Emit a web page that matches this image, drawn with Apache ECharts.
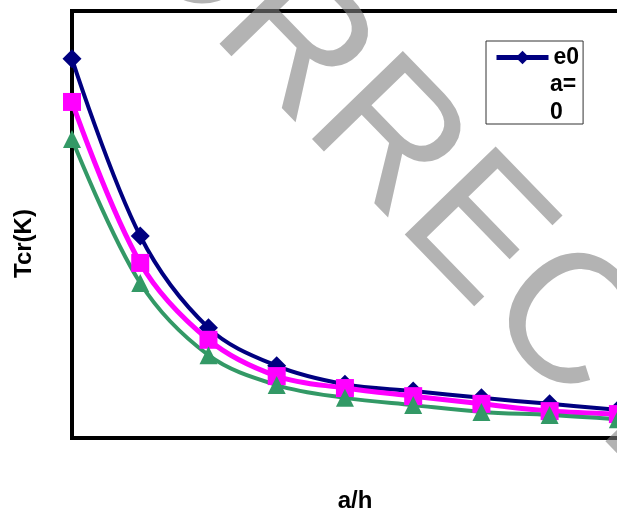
<!DOCTYPE html>
<html>
<head>
<meta charset="utf-8">
<script src="https://cdn.jsdelivr.net/npm/echarts@6/dist/echarts.min.js"></script>
<style>
  html, body { margin: 0; padding: 0; background: #fff; }
  #chart { width: 617px; height: 511px; }
</style>
</head>
<body>
<div id="chart"></div>
<script>
// a/h positions (evenly spaced in the plot)
const aOverH = [1, 2, 3, 4, 5, 6, 7, 8, 9]

// Tcr(K) (no tick labels, relative scale 0-100)
const tcrNavy = [88.8, 47.3, 25.8, 16.9, 12.6, 11.0, 9.4, 8.0, 6.6]
const tcrMagenta = [78.7, 41.0, 23.0, 14.5, 11.7, 9.8, 8.0, 6.3, 5.6]
const tcrGreen = [70.0, 36.3, 19.4, 12.4, 9.4, 7.7, 6.1, 5.4, 4.4]

const legendLines = ['a=', '0']

const font = 'Liberation Sans, Arial, sans-serif'

const toPairs = (ys) => ys.map((y, i) => [aOverH[i], y])

const chart = echarts.init(document.getElementById('chart'), null, { renderer: 'canvas' })

const option = {
  backgroundColor: '#fff',
  animation: false,
  grid: {
    left: 72,
    top: 11,
    bottom: 73,
    right: -35,
    outerBoundsMode: 'none',
    containLabel: false,
    show: true,
    borderColor: '#000',
    borderWidth: 4,
    backgroundColor: 'transparent'
  },
  legend: {
    left: 486,
    top: 41,
    padding: [5, 4, 55, 8],
    borderColor: '#333',
    borderWidth: 1,
    itemWidth: 52,
    itemHeight: 17,
    itemGap: 3,
    data: ['e0'],
    lineStyle: { width: 5 },
    textStyle: {
      fontFamily: font,
      fontWeight: 'bold',
      fontSize: 23,
      color: '#000'
    }
  },
  xAxis: {
    type: 'value',
    min: 1,
    max: 9.5,
    name: 'a/h',
    nameLocation: 'middle',
    nameGap: 51,
    nameTextStyle: {
      fontFamily: font,
      fontWeight: 'bold',
      fontSize: 24,
      color: '#000',
      padding: [0, 14, 0, 0]
    },
    axisLine: { show: false },
    axisTick: { show: false },
    axisLabel: { show: false },
    splitLine: { show: false }
  },
  yAxis: {
    type: 'value',
    min: 0,
    max: 100,
    name: 'Tcr(K)',
    nameLocation: 'middle',
    nameGap: 36,
    nameTextStyle: {
      fontFamily: font,
      fontWeight: 'bold',
      fontSize: 24,
      color: '#000',
      padding: [0, 38, 0, 0]
    },
    axisLine: { show: false },
    axisTick: { show: false },
    axisLabel: { show: false },
    splitLine: { show: false }
  },
  series: [
    {
      name: 'e0',
      type: 'line',
      smooth: 0.35,
      symbol: 'diamond',
      symbolSize: 19,
      data: toPairs(tcrNavy),
      lineStyle: { color: '#000080', width: 4 },
      itemStyle: { color: '#000080' }
    },
    {
      name: 'e1',
      type: 'line',
      smooth: 0.35,
      symbol: 'rect',
      symbolSize: 18,
      data: toPairs(tcrMagenta),
      lineStyle: { color: '#ff00ff', width: 5 },
      itemStyle: { color: '#ff00ff' }
    },
    {
      name: 'e2',
      type: 'line',
      smooth: 0.35,
      symbol: 'triangle',
      symbolSize: 18,
      data: toPairs(tcrGreen),
      lineStyle: { color: '#339966', width: 4 },
      itemStyle: { color: '#339966' }
    }
  ],
  graphic: [
    {
      type: 'text',
      left: 550,
      top: 73,
      style: {
        text: legendLines[0],
        fontFamily: font,
        fontWeight: 'bold',
        fontSize: 23,
        fill: '#000'
      }
    },
    {
      type: 'text',
      left: 550,
      top: 101,
      style: {
        text: legendLines[1],
        fontFamily: font,
        fontWeight: 'bold',
        fontSize: 23,
        fill: '#000'
      }
    },
    // watermark
    {
      type: 'text',
      x: 370,
      y: 126,
      rotation: -0.80,
      silent: true,
      z: 100,
      style: {
        text: 'CORRECT',
        fontFamily: font,
        fontSize: 184,
        fill: 'rgba(128,128,128,0.6)',
        align: 'center',
        verticalAlign: 'middle'
      }
    }
  ]
}

chart.setOption(option)
</script>
</body>
</html>
